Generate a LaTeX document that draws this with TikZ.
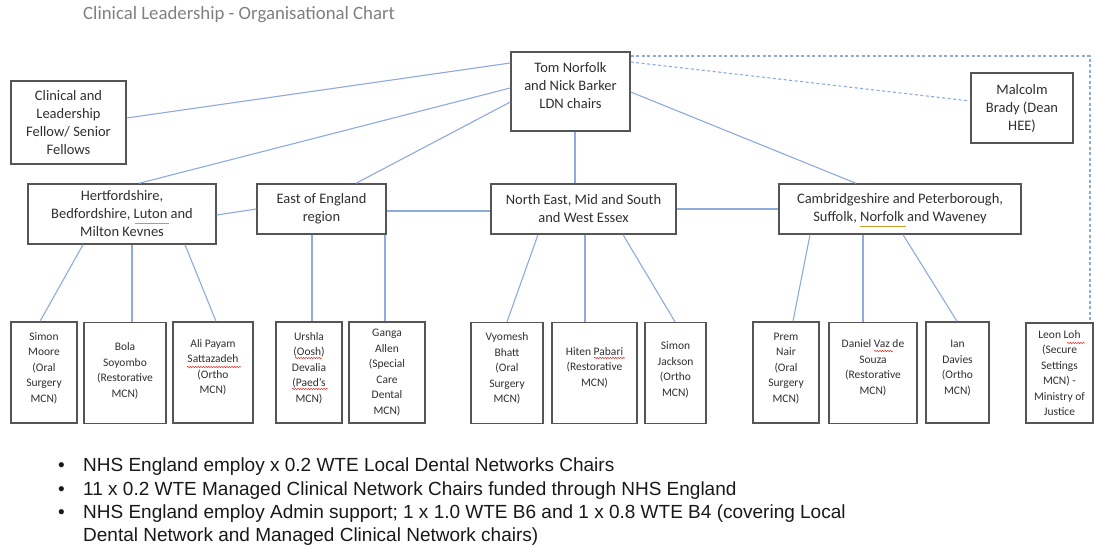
\documentclass[tikz,border=0pt]{standalone}
\usepackage{fontspec}
\setmainfont{Carlito}
\newfontfamily\arialf{Liberation Sans}
\usetikzlibrary{decorations.pathmorphing}
\definecolor{lnblue}{HTML}{8FAADC}
\definecolor{bxgray}{HTML}{555555}
\definecolor{txgray}{HTML}{303030}
\definecolor{ttlgray}{HTML}{808080}
\definecolor{spellred}{HTML}{E0302A}
\definecolor{gramgold}{HTML}{C9A030}
\newcommand{\lowpad}[1]{\rule[-#1pt]{0pt}{0pt}}
\begin{document}
\begin{tikzpicture}[x=1pt,y=-1pt,
  box/.style={draw=bxgray, line width=1.4pt, align=center, text=txgray, inner sep=0pt},
  bigf/.style={font=\fontsize{14.5}{18}\selectfont},
  smallf/.style={font=\fontsize{11.5}{15.5}\selectfont},
  conn/.style={draw=lnblue, line width=1.1pt},
  dconn/.style={draw=lnblue, line width=1.1pt, dash pattern=on 3pt off 2.5pt},
  wavy/.style={draw=spellred, line width=0.5pt, decorate, decoration={snake, amplitude=0.7pt, segment length=2.6pt}},
  gram/.style={draw=gramgold, line width=0.9pt},
  bul/.style={font=\arialf\fontsize{19}{23}\selectfont, text=black!90, inner sep=0pt, anchor=base west}
]
\fill[white] (0,0) rectangle (1094,548);
\path[use as bounding box] (0,0) rectangle (1094,548);

% title
\node[anchor=west, inner sep=0pt, text=ttlgray, font=\fontsize{18.8}{22}\selectfont] (title) at (83,15) {Clinical Leadership - Organisational Chart};

% top level
\node[box, bigf, minimum width=119, minimum height=79] (tom) at (570.5,91.5) {Tom Norfolk\\and Nick Barker\\LDN chairs\lowpad{12}};
\node[box, bigf, minimum width=115, minimum height=83] (fellow) at (68.5,122.5) {Clinical and\\Leadership\\Fellow/ Senior\\Fellows};
\node[box, bigf, minimum width=102, minimum height=70] (malcolm) at (1022,108) {Malcolm\\Brady (Dean\\HEE)};

% regions
\node[box, bigf, minimum width=188, minimum height=60] (herts) at (122,214) {Hertfordshire,\\Bedfordshire, Luton and\\Milton Kevnes};
\node[box, bigf, minimum width=129, minimum height=50] (eoe) at (321.5,209) {East of England\\region};
\node[box, bigf, minimum width=185, minimum height=50] (ne) at (583.5,209) {North East, Mid and South\\and West Essex};
\node[box, bigf, minimum width=242, minimum height=50] (cambs) at (900,209) {Cambridgeshire and Peterborough,\\Suffolk, Norfolk and Waveney};

% MCN chairs
\node[box, smallf, minimum width=66, minimum height=101] (sm) at (44,372.5) {Simon\\Moore\\(Oral\\Surgery\\MCN)\lowpad{10}};
\node[box, smallf, minimum width=82, minimum height=101] (bola) at (125,373) {Bola\\Soyombo\\(Restorative\\MCN)\lowpad{6}};
\node[box, smallf, minimum width=80, minimum height=101] (ali) at (213,372.5) {Ali Payam\\Sattazadeh\\(Ortho\\MCN)\lowpad{12}};
\node[box, smallf, minimum width=66, minimum height=101] (urs) at (309,372.5) {Urshla\\(Oosh)\\Devalia\\(Paed’s\\MCN)\lowpad{10}};
\node[box, smallf, minimum width=76, minimum height=101] (gan) at (387,372.5) {Ganga\\Allen\\(Special\\Care\\Dental\\MCN)};
\node[box, smallf, minimum width=72, minimum height=101] (vyo) at (507,373) {Vyomesh\\Bhatt\\(Oral\\Surgery\\MCN)\lowpad{10}};
\node[box, smallf, minimum width=85, minimum height=101] (hit) at (594.5,373) {Hiten Pabari\\(Restorative\\MCN)\lowpad{12}};
\node[box, smallf, minimum width=61, minimum height=101] (jac) at (675.5,373) {Simon\\Jackson\\(Ortho\\MCN)\lowpad{8}};
\node[box, smallf, minimum width=66, minimum height=101] (prem) at (786,372.5) {Prem\\Nair\\(Oral\\Surgery\\MCN)\lowpad{10}};
\node[box, smallf, minimum width=88, minimum height=101] (dan) at (873,373) {Daniel Vaz de\\Souza\\(Restorative\\MCN)\lowpad{12}};
\node[box, smallf, minimum width=63, minimum height=101] (ian) at (957.5,372.5) {Ian\\Davies\\(Ortho\\MCN)\lowpad{10}};
\node[box, smallf, minimum width=67, minimum height=100] (leon) at (1059.5,373) {Leon Loh\\(Secure\\Settings\\MCN) -\\Ministry of\\Justice};

% connectors from chairs
\draw[conn] (tom.west |- 0,63) -- (fellow.east |- 0,118);
\draw[conn] (tom.west |- 0,88) -- (herts.north -| 139,0);
\draw[conn] (tom.west |- 0,102) -- (eoe.north -| 356,0);
\draw[conn] (tom.south -| 575,0) -- (ne.north -| 575,0);
\draw[conn] (tom.east |- 0,92) -- (cambs.north -| 856,0);
\draw[dconn] (tom.east |- 0,62) -- (malcolm.west |- 0,101);
\coordinate (dcorner) at (1090,56);
\draw[dconn] (tom.east |- dcorner) -- (dcorner) -- (dcorner |- leon.north);

% between regions
\draw[conn] (herts.east |- 0,215) -- (eoe.west |- 0,209);
\draw[conn] (eoe.east |- 0,211) -- (ne.west |- 0,211);
\draw[conn] (ne.east |- 0,209) -- (cambs.west |- 0,209);

% regions to MCN chairs
\draw[conn] (herts.south -| 83,0) -- (sm.north -| 40,0);
\draw[conn] (herts.south -| 132,0) -- (bola.north -| 132,0);
\draw[conn] (herts.south -| 185,0) -- (ali.north -| 216,0);
\draw[conn] (eoe.south -| 312,0) -- (urs.north -| 312,0);
\draw[conn] (eoe.south -| 385,0) -- (gan.north -| 385,0);
\draw[conn] (ne.south -| 538,0) -- (vyo.north -| 507,0);
\draw[conn] (ne.south -| 585,0) -- (hit.north -| 585,0);
\draw[conn] (ne.south -| 623,0) -- (jac.north -| 675,0);
\draw[conn] (cambs.south -| 810,0) -- (prem.north -| 793,0);
\draw[conn] (cambs.south -| 863,0) -- (dan.north -| 863,0);
\draw[conn] (cambs.south -| 903,0) -- (ian.north -| 957,0);

% proofing underlines
\draw[wavy] (187,367) -- (241,367);
\draw[wavy] (295,358) -- (322,358);
\draw[wavy] (292,389) -- (328,389);
\draw[wavy] (594,358) -- (625,358);
\draw[wavy] (874,351) -- (893,351);
\draw[wavy] (1067,343) -- (1085,343);
\draw[gram] (135,223) -- (169,223);
\draw[gram] (860,226) -- (906,226);

% notes
\node[bul] (n1) at (83,471) {NHS England employ x 0.2 WTE Local Dental Networks Chairs};
\node[bul] (n2) at (83,495) {11 x 0.2 WTE Managed Clinical Network Chairs funded through NHS England};
\node[bul] (n3) at (83,518) {NHS England employ Admin support; 1 x 1.0 WTE B6 and 1 x 0.8 WTE B4 (covering Local};
\node[bul] (n4) at (83,541) {Dental Network and Managed Clinical Network chairs)};
\foreach \yy/\nm in {471/d1,495/d2,518/d3}
  \node[bul] (\nm) at (58,\yy) {•};
\end{tikzpicture}
\end{document}
